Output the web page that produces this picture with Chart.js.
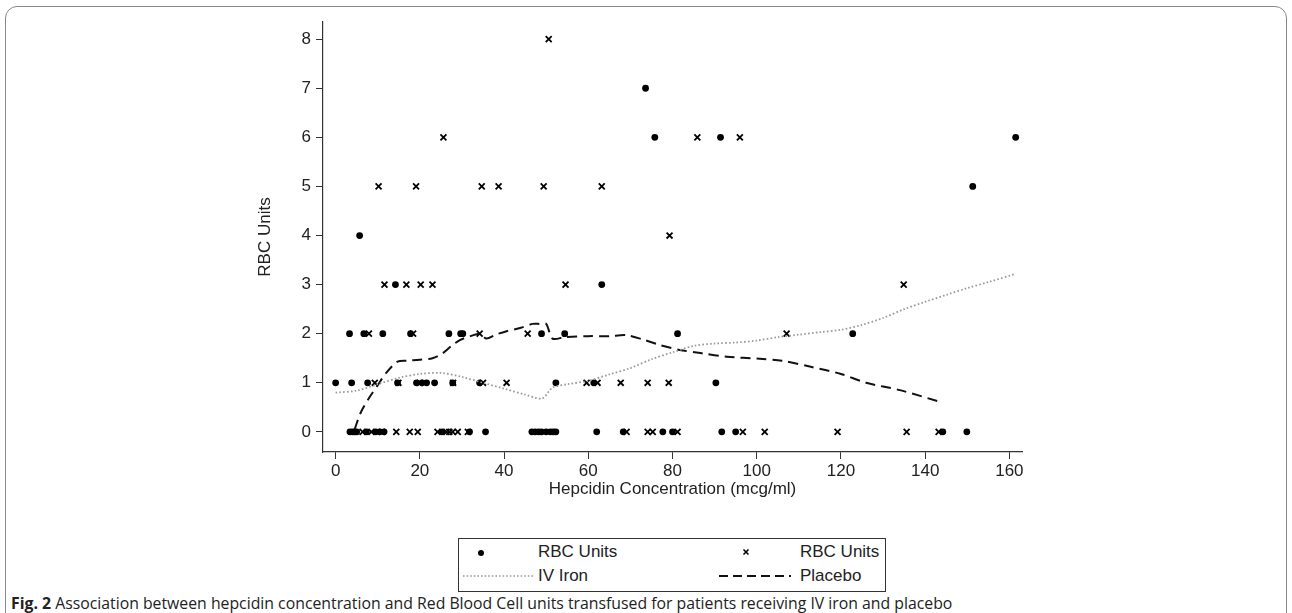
<!DOCTYPE html>
<html>
<head>
<meta charset="utf-8">
<script src="https://cdn.jsdelivr.net/npm/chart.js@4"></script>
<style>
  html, body { margin: 0; padding: 0; background: #fff; }
  body { width: 1292px; height: 613px; position: relative; overflow: hidden; font-family: "Liberation Sans", Arial, sans-serif; }
  #frame { position: absolute; left: 5px; top: 6px; width: 1280px; height: 640px; border: 1px solid #888; border-radius: 12px; }
  #chart { position: absolute; left: 0; top: 0; }
  #legend { position: absolute; left: 458px; top: 538px; width: 426px; height: 52px; border: 1px solid #333; }
  .lab { position: absolute; font-size: 17px; color: #222; line-height: 20px; }
  .sym { position: absolute; }
  #caption { position: absolute; left: 11px; top: 592px; font-family: "Open Sans", sans-serif; font-size: 15.8px; color: #222; white-space: nowrap; }
</style>
</head>
<body>
<div id="frame"></div>
<canvas id="chart" width="1292" height="505"></canvas>
<div id="legend">
  <svg class="sym" style="left:16px;top:8px" width="12" height="12"><circle cx="6" cy="6" r="3" fill="#000"/></svg>
  <div class="lab" style="left:79px;top:3px">RBC Units</div>
  <svg class="sym" style="left:281px;top:7px" width="12" height="12"><path d="M3.5 3.5 L8.5 8.5 M8.5 3.5 L3.5 8.5" stroke="#000" stroke-width="1.6"/></svg>
  <div class="lab" style="left:341px;top:3px">RBC Units</div>
  <svg class="sym" style="left:4px;top:34px" width="70" height="6"><line x1="0" y1="3" x2="70" y2="3" stroke="#999" stroke-width="1.6" stroke-dasharray="1.6 2"/></svg>
  <div class="lab" style="left:79px;top:27px">IV Iron</div>
  <svg class="sym" style="left:260px;top:34px" width="72" height="6"><line x1="0" y1="3" x2="72" y2="3" stroke="#111" stroke-width="1.8" stroke-dasharray="9 5"/></svg>
  <div class="lab" style="left:341px;top:27px">Placebo</div>
</div>
<div id="caption"><b>Fig. 2</b> Association between hepcidin concentration and Red Blood Cell units transfused for patients receiving IV iron and placebo</div>
<script>
// IV iron patients (dots): hepcidin vs RBC units
const ironHep = [73.6, 75.8, 91.4, 161.5, 151.3, 5.7, 14.2, 63.2,
  3.3, 6.7, 11.2, 17.8, 26.9, 29.7, 30.2, 48.9, 54.4, 81.2, 122.8,
  0, 3.8, 7.6, 14.7, 19.2, 20.5, 21.6, 23.5, 27.8, 34.2, 52.3, 61.3, 90.3,
  3.4, 4.0, 4.5, 5.0, 7.3, 9.5, 10.5, 11.5, 25.3, 31.8, 35.6, 46.6, 47.4, 48.2, 48.9, 50.0, 51.0, 51.7, 52.3, 62, 68.3, 77.7, 80, 91.7, 95, 144.2, 149.9];
const ironRbc = [7, 6, 6, 6, 5, 4, 3, 3,
  2, 2, 2, 2, 2, 2, 2, 2, 2, 2, 2,
  1, 1, 1, 1, 1, 1, 1, 1, 1, 1, 1, 1, 1,
  0, 0, 0, 0, 0, 0, 0, 0, 0, 0, 0, 0, 0, 0, 0, 0, 0, 0, 0, 0, 0, 0, 0, 0, 0, 0, 0];

// placebo patients (crosses)
const placeboHep = [50.6, 25.6, 85.9, 96,
  10.2, 19.1, 34.7, 38.7, 49.4, 63.2, 79.3,
  11.6, 16.8, 20.2, 23.0, 54.6, 134.9,
  7.9, 18.4, 34.2, 45.6, 107.1,
  9.3, 14.9, 20.0, 27.9, 35.0, 40.6, 59.6, 62.2, 67.7, 74.1, 79.1,
  6.4, 8.5, 11.0, 14.4, 17.6, 19.5, 24.2, 26.3, 27.0, 27.8, 29, 31.4, 69.1, 74.1, 75.3, 81.2, 96.7, 101.9, 119.2, 135.6, 143.2];
const placeboRbc = [8, 6, 6, 6,
  5, 5, 5, 5, 5, 5, 4,
  3, 3, 3, 3, 3, 3,
  2, 2, 2, 2, 2,
  1, 1, 1, 1, 1, 1, 1, 1, 1, 1, 1,
  0, 0, 0, 0, 0, 0, 0, 0, 0, 0, 0, 0, 0, 0, 0, 0, 0, 0, 0, 0, 0];

// smoothed fits
const ironFitX = [0, 5, 10, 15, 20, 25, 30, 35, 40, 45, 49, 51.5, 55, 60, 65, 70, 75, 80, 85, 90, 95, 100, 105, 110, 115, 120, 125, 130, 135, 140, 145, 150, 155, 161.5];
const ironFitY = [0.8, 0.84, 0.97, 1.1, 1.18, 1.2, 1.12, 1.0, 0.88, 0.76, 0.68, 0.9, 0.97, 1.04, 1.17, 1.3, 1.48, 1.62, 1.75, 1.8, 1.82, 1.86, 1.93, 1.98, 2.03, 2.08, 2.18, 2.32, 2.5, 2.65, 2.79, 2.93, 3.05, 3.22];
const placeboFitX = [4.5, 6, 8, 10, 12, 14.7, 17, 20, 23, 25.4, 27.5, 29.5, 32, 34.2, 35.8, 38, 40.6, 44, 46.8, 48.5, 50, 51.5, 54.4, 60, 65, 69, 73, 77, 81.7, 87, 92.9, 100.7, 106, 112.6, 120, 126, 134, 144];
const placeboFitY = [0.05, 0.4, 0.7, 0.95, 1.2, 1.43, 1.45, 1.47, 1.5, 1.6, 1.75, 1.87, 1.95, 2.0, 1.9, 1.98, 2.05, 2.12, 2.2, 2.2, 2.2, 1.9, 1.93, 1.95, 1.95, 1.97, 1.88, 1.77, 1.67, 1.6, 1.53, 1.49, 1.45, 1.33, 1.18, 1.0, 0.85, 0.6];

const xTicks = [0, 20, 40, 60, 80, 100, 120, 140, 160];
const yTicks = [0, 1, 2, 3, 4, 5, 6, 7, 8];

function pts(xs, ys) {
  return xs.map((x, i) => ({ x: x, y: ys[i] }));
}

const font = { family: '"Liberation Sans", Arial, sans-serif', size: 17 };

new Chart(document.getElementById('chart'), {
  type: 'scatter',
  data: {
    datasets: [
      {
        label: 'IV Iron',
        data: pts(ironFitX, ironFitY),
        showLine: true,
        borderColor: '#9a9a9a',
        borderWidth: 1.8,
        borderDash: [1.6, 2.2],
        tension: 0.3,
        pointRadius: 0
      },
      {
        label: 'Placebo',
        data: pts(placeboFitX, placeboFitY),
        showLine: true,
        borderColor: '#111',
        borderWidth: 2,
        borderDash: [10, 6],
        tension: 0.3,
        pointRadius: 0
      },
      {
        label: 'RBC Units',
        data: pts(ironHep, ironRbc),
        pointStyle: 'circle',
        pointRadius: 3.4,
        backgroundColor: '#000',
        borderColor: '#000',
        borderWidth: 0
      },
      {
        label: 'RBC Units',
        data: pts(placeboHep, placeboRbc),
        pointStyle: 'crossRot',
        pointRadius: 4.2,
        borderColor: '#000',
        borderWidth: 1.8
      }
    ]
  },
  options: {
    responsive: false,
    animation: false,
    layout: { padding: { left: 250, right: 270, top: 22, bottom: 0 } },
    plugins: { legend: { display: false }, tooltip: { enabled: false } },
    scales: {
      x: {
        type: 'linear',
        min: -3,
        max: 163,
        afterBuildTicks: s => { s.ticks = xTicks.map(v => ({ value: v })); },
        afterFit: s => { s.height = 53; },
        grid: { drawOnChartArea: false, drawTicks: true, tickLength: 7, color: '#333' },
        border: { display: true, color: '#333', width: 1.2 },
        ticks: { font: font, color: '#222', padding: 2, maxRotation: 0 },
        title: { display: true, text: 'Hepcidin Concentration (mcg/ml)', font: font, color: '#222', padding: { top: 0, bottom: 5 } }
      },
      y: {
        type: 'linear',
        min: -0.41,
        max: 8.35,
        afterBuildTicks: s => { s.ticks = yTicks.map(v => ({ value: v })); },
        afterFit: s => { s.width = 73; },
        grid: { drawOnChartArea: false, drawTicks: true, tickLength: 7, color: '#333' },
        border: { display: true, color: '#333', width: 1.2 },
        ticks: { font: font, color: '#222', padding: 5 },
        title: { display: true, text: 'RBC Units', font: font, color: '#222', padding: { top: 5, bottom: 0 } }
      }
    }
  }
});
</script>
</body>
</html>
